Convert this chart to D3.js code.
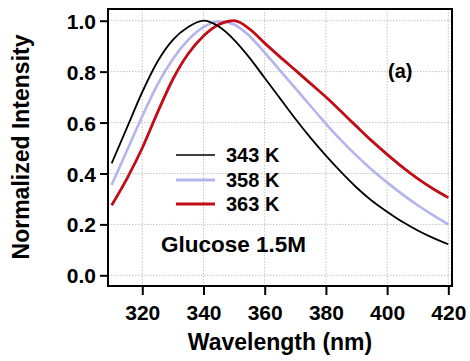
<!DOCTYPE html>
<html>
<head>
<meta charset="utf-8">
<script src="https://cdn.jsdelivr.net/npm/d3@7"></script>
<style>
	html, body { margin: 0; padding: 0; background: #fff; }
	svg { display: block; font-family: 'Liberation Sans', Arial, sans-serif; font-weight: bold; }
</style>
</head>
<body>
<svg id="chart" width="470" height="361"></svg>
<script>
// wavelength grid (nm) and normalized intensity
const wavelengths = [310, 315, 320, 325, 330, 335, 340, 345, 350, 355, 360, 365, 370, 375, 380, 385, 390, 395, 400, 405, 410, 415, 420];
const k343 = [0.44, 0.58, 0.72, 0.84, 0.925, 0.975, 1.0, 0.977, 0.925, 0.855, 0.775, 0.695, 0.615, 0.54, 0.47, 0.405, 0.345, 0.293, 0.25, 0.21, 0.176, 0.147, 0.122];
const k358 = [0.355, 0.49, 0.625, 0.75, 0.85, 0.925, 0.975, 0.997, 0.985, 0.94, 0.875, 0.805, 0.735, 0.665, 0.595, 0.53, 0.47, 0.415, 0.365, 0.318, 0.275, 0.236, 0.2];
const k363 = [0.275, 0.38, 0.5, 0.64, 0.77, 0.87, 0.94, 0.985, 1.0, 0.968, 0.912, 0.858, 0.806, 0.753, 0.7, 0.643, 0.585, 0.528, 0.475, 0.425, 0.38, 0.34, 0.305];

const seriesNames = ['343 K', '358 K', '363 K'];
const seriesColors = ['#000000', '#b4b4ee', '#c00d16'];
const xTicks = [320, 340, 360, 380, 400, 420];
const yTicks = [0, 0.2, 0.4, 0.6, 0.8, 1.0];

const series = [k343, k358, k363].map((vals, i) => ({
	name: seriesNames[i],
	color: seriesColors[i],
	points: wavelengths.map((w, j) => ({x: w, y: vals[j]})),
}));

const svg = d3.select('#chart');
const frame = {left: 108, right: 452, top: 9, bottom: 286};

const x = d3.scaleLinear().domain([308.8, 421.2]).range([frame.left, frame.right]);
const y = d3.scaleLinear().domain([-0.042, 1.046]).range([frame.bottom, frame.top]);

// dotted grid
const grid = svg.append('g').attr('class', 'grid')
	.attr('stroke', '#c4c4c4')
	.attr('stroke-width', 1)
	.attr('stroke-dasharray', '1.5,1.5');
grid.selectAll('line.v')
	.data(xTicks)
	.join('line')
	.classed('v', true)
	.attr('x1', d => x(d)).attr('x2', d => x(d))
	.attr('y1', frame.top).attr('y2', frame.bottom);
grid.selectAll('line.h')
	.data(yTicks)
	.join('line')
	.classed('h', true)
	.attr('x1', frame.left).attr('x2', frame.right)
	.attr('y1', d => y(d)).attr('y2', d => y(d));

// spectra
const line = d3.line()
	.x(d => x(d.x))
	.y(d => y(d.y))
	.curve(d3.curveMonotoneX);
const widths = [1.8, 2.6, 2.8];
const drawOrder = [1, 2, 0];
svg.append('g').attr('class', 'lines')
	.selectAll('path')
	.data(drawOrder.map(i => series[i]))
	.join('path')
	.attr('fill', 'none')
	.attr('stroke', d => d.color)
	.attr('stroke-width', d => widths[series.indexOf(d)])
	.attr('stroke-linejoin', 'round')
	.attr('d', d => line(d.points));

// axes
const xAxis = svg.append('g')
	.attr('transform', `translate(0,${frame.bottom})`)
	.call(d3.axisBottom(x).tickValues(xTicks).tickSize(9).tickPadding(10).tickFormat(d3.format('d')));
const yAxis = svg.append('g')
	.attr('transform', `translate(${frame.left},0)`)
	.call(d3.axisLeft(y).tickValues(yTicks).tickSize(8).tickPadding(4).tickFormat(d3.format('.1f')));
[xAxis, yAxis].forEach(ax => {
	ax.select('.domain').remove();
	ax.selectAll('.tick line').attr('stroke', '#000').attr('stroke-width', 2);
	ax.selectAll('.tick text')
		.attr('fill', '#000')
		.attr('font-family', "'Liberation Sans', Arial, sans-serif")
		.attr('font-weight', 'bold')
		.attr('font-size', 21);
});
yAxis.selectAll('.tick text').attr('dy', '0.36em');

// plot frame
svg.append('rect')
	.attr('x', frame.left).attr('y', frame.top)
	.attr('width', frame.right - frame.left)
	.attr('height', frame.bottom - frame.top)
	.attr('fill', 'none')
	.attr('stroke', '#000')
	.attr('stroke-width', 2);

// axis titles
svg.append('text')
	.attr('x', 280).attr('y', 350)
	.attr('text-anchor', 'middle')
	.attr('font-size', 23)
	.text('Wavelength (nm)');
svg.append('text')
	.attr('transform', 'translate(29,147) rotate(-90)')
	.attr('text-anchor', 'middle')
	.attr('font-size', 23)
	.text('Normalized Intensity');

// legend
const legend = svg.append('g').attr('class', 'legend');
const legendY = [155, 180, 204];
const legendWidths = [1.6, 3, 3];
const items = legend.selectAll('g')
	.data(series)
	.join('g')
	.attr('transform', (d, i) => `translate(0,${legendY[i]})`);
items.append('line')
	.attr('x1', 176).attr('x2', 215)
	.attr('stroke', d => d.color)
	.attr('stroke-width', (d, i) => legendWidths[i]);
items.append('text')
	.attr('x', 226).attr('y', 7)
	.attr('font-size', 20)
	.text(d => d.name);

svg.append('text')
	.attr('x', 161).attr('y', 252)
	.attr('font-size', 22.5)
	.text('Glucose 1.5M');

svg.append('text')
	.attr('x', 388).attr('y', 78)
	.attr('font-size', 20)
	.text('(a)');
</script>
</body>
</html>
